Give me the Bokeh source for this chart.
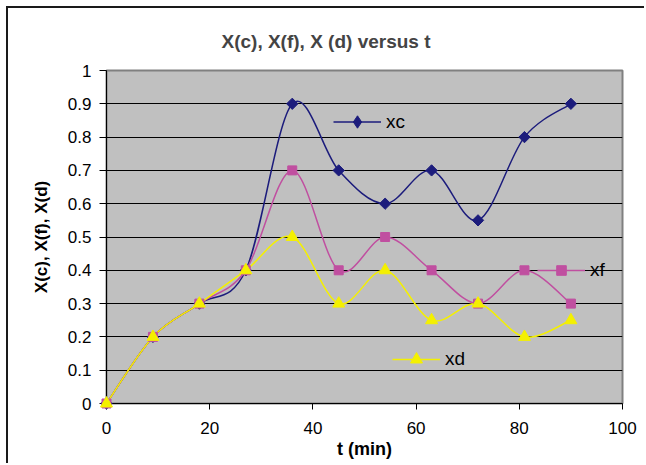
from bokeh.plotting import figure
from bokeh.models import Range1d, FixedTicker, Legend, LegendItem, ColumnDataSource
from bokeh.embed import file_html
from bokeh.resources import INLINE

t = [0, 9, 18, 27, 36, 45, 54, 63, 72, 81, 90]
xc = [0, 0.2, 0.3, 0.4, 0.9, 0.7, 0.6, 0.7, 0.55, 0.8, 0.9]
xf = [0, 0.2, 0.3, 0.4, 0.7, 0.4, 0.5, 0.4, 0.3, 0.4, 0.3]
xd = [0, 0.2, 0.3, 0.4, 0.5, 0.3, 0.4, 0.25, 0.3, 0.2, 0.25]
y_ticks = [0, 0.1, 0.2, 0.3, 0.4, 0.5, 0.6, 0.7, 0.8, 0.9, 1]
y_tick_labels = ["0", "0.1", "0.2", "0.3", "0.4", "0.5", "0.6", "0.7", "0.8", "0.9", "1"]
x_ticks = [0, 20, 40, 60, 80, 100]
series_names = ["xc", "xf", "xd"]

FONT = "Liberation Sans"
colors = ["#1c1c7c", "#C04FA0", "#F4F000"]


def smooth_segments(xs, ys):
    n = len(xs)
    d = dict(x0=[], y0=[], x1=[], y1=[], cx0=[], cy0=[], cx1=[], cy1=[])
    for i in range(n - 1):
        a = i - 1 if i > 0 else i
        b = i + 2 if i + 2 < n else i + 1
        d["x0"].append(xs[i]); d["y0"].append(ys[i])
        d["x1"].append(xs[i + 1]); d["y1"].append(ys[i + 1])
        d["cx0"].append(xs[i] + (xs[i + 1] - xs[a]) / 6)
        d["cy0"].append(ys[i] + (ys[i + 1] - ys[a]) / 6)
        d["cx1"].append(xs[i + 1] - (xs[b] - xs[i]) / 6)
        d["cy1"].append(ys[i + 1] - (ys[b] - ys[i]) / 6)
    return ColumnDataSource(d)


p = figure(width=638, height=457, output_backend="svg", toolbar_location=None,
           x_range=Range1d(0, 100), y_range=Range1d(0, 1),
           min_border_left=98, min_border_right=24, min_border_top=62, min_border_bottom=62,
           background_fill_color="#C0C0C0", border_fill_color="white")
p.styles = {"margin-left": "6px", "margin-top": "6px",
            "border-left": "2px solid #1a1a1a", "border-top": "2px solid #1a1a1a"}

p.outline_line_color = "#808080"
p.outline_line_width = 2

p.title.text = "X(c), X(f), X (d) versus t"
p.title.text_font = FONT
p.title.text_font_size = "19px"
p.title.text_font_style = "bold"
p.title.align = "left"
p.title.offset = 115
p.title.standoff = 38

p.xgrid.visible = False
p.ygrid.grid_line_color = "#000000"
p.ygrid.grid_line_width = 1
p.ygrid.ticker = FixedTicker(ticks=y_ticks)

p.yaxis.ticker = FixedTicker(ticks=y_ticks)
p.yaxis.major_label_overrides = {v: s for v, s in zip(y_ticks, y_tick_labels)}
p.xaxis.ticker = FixedTicker(ticks=x_ticks)
for ax in (p.xaxis[0], p.yaxis[0]):
    ax.axis_line_color = "#000000"
    ax.axis_line_width = 1
    ax.major_tick_line_color = "#000000"
    ax.major_tick_in = 0
    ax.minor_tick_line_color = None
    ax.major_label_text_font = FONT
    ax.major_label_text_font_size = "17px"
    ax.major_label_text_color = "#000000"
    ax.axis_label_text_font = FONT
    ax.axis_label_text_font_style = "bold"
    ax.axis_label_text_color = "#000000"
p.yaxis.major_tick_out = 7
p.yaxis.major_label_standoff = 8
p.yaxis.axis_label = "X(c), X(f), X(d)"
p.yaxis.axis_label_text_font_size = "17px"
p.yaxis.axis_label_standoff = 14
p.xaxis.major_tick_out = 6
p.xaxis.major_label_standoff = 12
p.xaxis.axis_label = "t (min)"
p.xaxis.axis_label_text_font_size = "18px"
p.xaxis.axis_label_standoff = 2

markers = [dict(marker="square", size=8, angle=0.785398, legend_marker="diamond"),
           dict(marker="square", size=9, angle=0.0, legend_marker="square"),
           dict(marker="triangle", size=12, angle=0.0, legend_marker="triangle")]
legend_glyph_h = [31, 24, 30]
legend_locs = [(227, 266), (431, 121), (286, 29)]

for name, ys, col, mk, gh, loc in zip(series_names, [xc, xf, xd], colors, markers,
                                      legend_glyph_h, legend_locs):
    src = smooth_segments(t, ys)
    p.bezier(x0="x0", y0="y0", x1="x1", y1="y1", cx0="cx0", cy0="cy0", cx1="cx1", cy1="cy1",
             source=src, line_color=col, line_width=1.5)
    sr = p.scatter(x=t, y=ys, marker=mk["marker"], size=mk["size"], angle=mk["angle"],
                   fill_color=col, line_color=col, level="overlay")
    # legend-only renderers (no drawable data in the plot)
    lr = p.line(x=[float("nan")], y=[float("nan")], line_color=col, line_width=1.5)
    lm = p.scatter(x=[float("nan")], y=[float("nan")], marker=mk["legend_marker"],
                   fill_color=col, line_color=col)
    leg = Legend(items=[LegendItem(label=name, renderers=[lr, lm])], location=loc,
                 background_fill_alpha=0, border_line_color=None, padding=0, margin=0,
                 glyph_width=48, glyph_height=gh, label_standoff=5,
                 label_text_font=FONT, label_text_font_size="19px", label_text_color="#000000",
                 label_height=16)
    p.add_layout(leg, "center")

open("out.html", "w").write(file_html(p, INLINE))
